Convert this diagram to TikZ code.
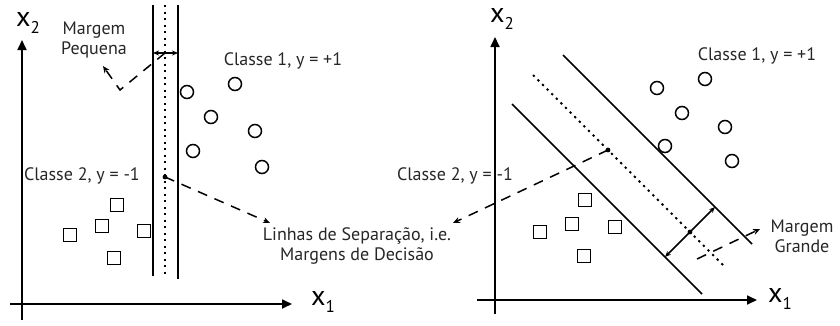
\documentclass[tikz,border=0pt]{standalone}
\usepackage{fontspec}
\setmainfont{PT Sans}
\usetikzlibrary{arrows.meta}
\begin{document}
\begin{tikzpicture}[x=1pt,y=-1pt,
  axis/.style={line width=1.7pt,-{Triangle[length=10pt,width=9pt]}},
  sep/.style={line width=1.6pt},
  dotline/.style={line width=2pt,dash pattern=on 2.2pt off 4.3pt},
  darr/.style={line width=1.5pt,dash pattern=on 10pt off 8pt,-{Stealth[length=7pt,width=6pt]}},
  marr/.style={line width=1.5pt,{Stealth[length=6pt,width=5pt]}-{Stealth[length=6pt,width=5pt]}},
  circ/.style={circle,draw,line width=1.5pt,minimum size=13pt,inner sep=0pt},
  sq/.style={rectangle,draw,line width=1.6pt,minimum size=13pt,inner sep=0pt},
  lbl/.style={font=\fontsize{18}{20}\selectfont,text=black!85,inner sep=0pt,align=center},
  axl/.style={font=\fontsize{28}{28}\selectfont,inner sep=0pt}
]
\useasboundingbox (0,0) rectangle (840,325);
% ---------- left panel ----------
\coordinate (lyb) at (22,320); \coordinate (lyt) at (22,40);
\coordinate (lxb) at (10,304); \coordinate (lxt) at (292,304);
\draw[axis] (lyb) -- (lyt);
\draw[axis] (lxb) -- (lxt);
\node[axl] (lx2) at (28,23) {x\raisebox{-7pt}{\fontsize{17}{17}\selectfont 2}};
\node[axl] (lx1) at (323,302) {x\raisebox{-7pt}{\fontsize{17}{17}\selectfont 1}};
\coordinate (la1) at (153,5);   \coordinate (la2) at (153,276);
\coordinate (lb1) at (165,5);   \coordinate (lb2) at (165,274);
\coordinate (lc1) at (178,5);   \coordinate (lc2) at (178,279);
\draw[sep] (la1) -- (la2);
\draw[dotline] (lb1) -- (lb2);
\draw[sep] (lc1) -- (lc2);
\coordinate (lma) at (153,53); \coordinate (lmb) at (178,53);
\draw[marr] (lma) -- (lmb);
% circles
\node[circ] (lo1) at (187,92) {};
\node[circ] (lo2) at (235,84) {};
\node[circ] (lo3) at (211,117) {};
\node[circ] (lo4) at (255,131) {};
\node[circ] (lo5) at (193,151) {};
\node[circ] (lo6) at (262,167) {};
% squares
\node[sq] (ls1) at (117,205) {};
\node[sq] (ls2) at (102,226) {};
\node[sq] (ls3) at (70,235) {};
\node[sq] (ls4) at (144,231) {};
\node[sq] (ls5) at (114,258) {};
% labels
\node[lbl] (lpq) at (94,40) {Margem\\Pequena};
\node[lbl] (lcl1) at (283,61) {Classe 1, y = +1};
\node[lbl] (lcl2) at (82,176) {Classe 2, y = -1};
\node[lbl] (lsep) at (357,246) {Linhas de Separação, i.e.\\Margens de Decisão};
% dashed arrows
\coordinate (lm) at (165,53); \coordinate (lv) at (120,90); \coordinate (lpe) at (103,66);
\draw[darr] (lm) -- (lv) -- (lpe);
\coordinate (ld) at (165,177); \coordinate (lse) at (270,223);
\fill (ld) circle[radius=2.4pt];
\draw[darr] (ld) -- (lse);
% ---------- right panel ----------
\coordinate (ryb) at (495,314); \coordinate (ryt) at (495,37);
\coordinate (rxb) at (477,300); \coordinate (rxt) at (757,300);
\draw[axis] (ryb) -- (ryt);
\draw[axis] (rxb) -- (rxt);
\node[axl] (rx2) at (502,19) {x\raisebox{-7pt}{\fontsize{17}{17}\selectfont 2}};
\node[axl] (rx1) at (780,299) {x\raisebox{-7pt}{\fontsize{17}{17}\selectfont 1}};
\coordinate (ra1) at (512,104); \coordinate (ra2) at (702,294);
\coordinate (rb1) at (533,75);  \coordinate (rb2) at (723,265);
\coordinate (rc1) at (563,55);  \coordinate (rc2) at (752,244);
\draw[sep] (ra1) -- (ra2);
\draw[dotline] (rb1) -- (rb2);
\draw[sep] (rc1) -- (rc2);
\coordinate (rmd) at (690,232);
\coordinate (rml) at (665,257); \coordinate (rmr) at (715,207);
\draw[marr] (rml) -- (rmr);
\fill (rmd) circle[radius=2.4pt];
% circles
\node[circ] (ro1) at (657,88) {};
\node[circ] (ro2) at (705,79) {};
\node[circ] (ro3) at (682,113) {};
\node[circ] (ro4) at (725,127) {};
\node[circ] (ro5) at (665,146) {};
\node[circ] (ro6) at (732,161) {};
% squares
\node[sq] (rs1) at (585,200) {};
\node[sq] (rs2) at (572,224) {};
\node[sq] (rs3) at (540,232) {};
\node[sq] (rs4) at (615,227) {};
\node[sq] (rs5) at (584,256) {};
% labels
\node[lbl] (rcl1) at (757,56) {Classe 1, y = +1};
\node[lbl] (rcl2) at (455,176) {Classe 2, y = -1};
\node[lbl] (rmg) at (802,236) {Margem\\Grande};
% dashed arrows
\coordinate (rd) at (608,150); \coordinate (rse) at (453,223);
\fill (rd) circle[radius=2.4pt];
\draw[darr] (rd) -- (rse);
\coordinate (rgs) at (697,259); \coordinate (rge) at (760,229);
\draw[darr] (rgs) -- (rge);
\end{tikzpicture}
\end{document}
